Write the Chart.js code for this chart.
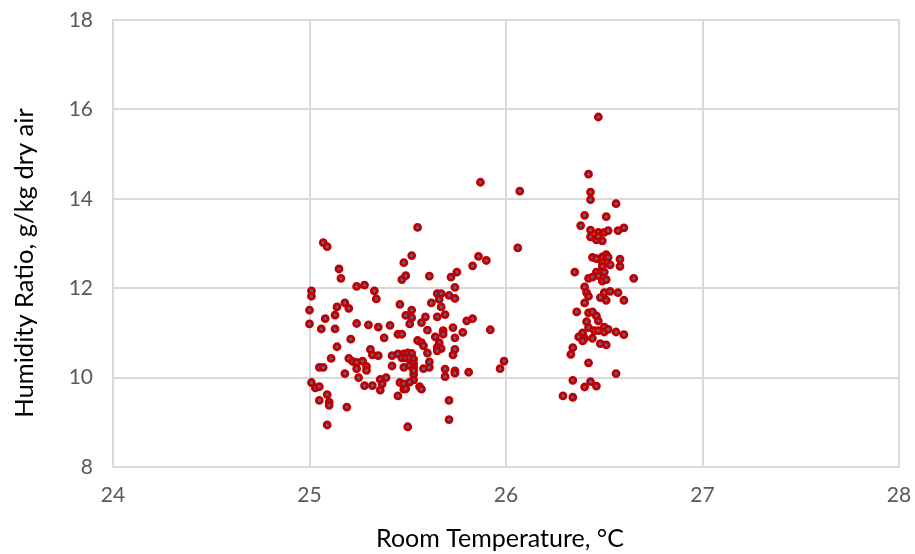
<!DOCTYPE html>
<html>
<head>
<meta charset="utf-8">
<script src="https://cdn.jsdelivr.net/npm/chart.js@4/dist/chart.umd.min.js"></script>
<style>
  html, body { margin: 0; padding: 0; background: #ffffff; }
  #wrap { width: 915px; height: 554px; }
</style>
</head>
<body>
<div id="wrap"><canvas id="chart" width="915" height="554"></canvas></div>
<script>
// Room temperature (°C) of each measurement
const roomTemperature = [
  25.07, 25.09, 25.15, 25.16, 25.24, 25.28, 25.33, 25.34, 25.01, 25.01,
  25.14, 25.18, 25.20, 25.46, 25.47, 25.49, 25.48, 25.52, 25.00,
  25.13, 25.08, 25.00, 25.06, 25.13, 25.24, 25.30, 25.35, 25.41, 25.45,
  25.47, 25.38, 25.21, 25.14, 25.31, 25.32, 25.35, 25.11, 25.20, 25.22,
  25.24, 25.27, 25.24, 25.29, 25.29, 25.42, 25.45, 25.48, 25.47, 25.42,
  25.48, 25.05, 25.07, 25.18, 25.25, 25.01, 25.03, 25.05, 25.28, 25.32,
  25.36, 25.37, 25.39, 25.36, 25.46, 25.48, 25.45, 25.09, 25.05, 25.10,
  25.10, 25.19, 25.09, 25.50,
  25.87, 26.07, 25.55, 26.06, 25.86, 25.90, 25.83, 25.75, 25.72, 25.61,
  25.74, 25.65, 25.67, 25.66, 25.71, 25.74, 25.62, 25.67, 25.52,
  25.49, 25.52, 25.51, 25.57, 25.59, 25.65, 25.69, 25.80, 25.83, 25.60,
  25.73, 25.78, 25.74, 25.68, 25.68, 25.64, 25.66, 25.65, 25.67, 25.65,
  25.92, 25.55, 25.57, 25.58, 25.74, 25.73, 25.60, 25.50, 25.52, 25.49,
  25.51, 25.53, 25.53, 25.61, 25.61, 25.58, 25.51, 25.53, 25.69, 25.69,
  25.74, 25.74, 25.81, 25.53, 25.53, 25.97, 25.99, 25.48, 25.51, 25.49,
  25.56, 25.57, 25.71, 25.71, 25.53,
  26.47, 26.42, 26.43, 26.43, 26.56, 26.40, 26.51, 26.38, 26.43, 26.47,
  26.50, 26.52, 26.57, 26.60, 26.43, 26.46, 26.49, 26.47, 26.44, 26.46,
  26.49, 26.51, 26.52, 26.58, 26.49, 26.53, 26.49, 26.58, 26.35, 26.46,
  26.50, 26.42, 26.44, 26.47, 26.49, 26.51, 26.65,
  26.40, 26.41, 26.42, 26.40, 26.50, 26.53, 26.57, 26.48, 26.51, 26.60,
  26.36, 26.42, 26.44, 26.46, 26.47, 26.41, 26.42, 26.39, 26.37, 26.40,
  26.39, 26.44, 26.45, 26.47, 26.50, 26.50, 26.52, 26.56, 26.60, 26.48,
  26.51, 26.34, 26.33, 26.42, 26.56, 26.34, 26.43, 26.46, 26.40, 26.29,
  26.34
];

// Humidity ratio (g/kg dry air) of the same measurements
const humidityRatio = [
  13.02, 12.93, 12.43, 12.22, 12.04, 12.07, 11.94, 11.76, 11.94, 11.82,
  11.58, 11.67, 11.55, 11.64, 12.19, 12.28, 12.57, 12.73, 11.51,
  11.40, 11.32, 11.20, 11.09, 11.09, 11.21, 11.18, 11.13, 11.17, 10.97,
  10.97, 10.89, 10.86, 10.69, 10.63, 10.51, 10.49, 10.43, 10.43, 10.36,
  10.34, 10.37, 10.20, 10.25, 10.16, 10.49, 10.53, 10.53, 10.44, 10.26,
  10.23, 10.23, 10.23, 10.09, 10.00, 9.89, 9.77, 9.80, 9.82, 9.82,
  9.96, 9.86, 10.00, 9.72, 9.89, 9.74, 9.59, 9.62, 9.49, 9.45,
  9.38, 9.34, 8.94, 8.90,
  14.37, 14.17, 13.36, 12.90, 12.71, 12.62, 12.50, 12.36, 12.25, 12.27,
  12.02, 11.88, 11.88, 11.75, 11.84, 11.77, 11.67, 11.58, 11.51,
  11.39, 11.34, 11.20, 11.23, 11.36, 11.36, 11.41, 11.27, 11.32, 11.06,
  11.12, 11.01, 10.89, 11.05, 10.97, 10.91, 10.78, 10.68, 10.65, 10.60,
  11.07, 10.83, 10.78, 10.71, 10.63, 10.51, 10.55, 10.55, 10.54, 10.44,
  10.44, 10.41, 10.31, 10.35, 10.23, 10.20, 10.27, 10.23, 10.19, 10.02,
  10.15, 10.10, 10.12, 10.07, 9.95, 10.20, 10.37, 9.86, 9.90, 9.75,
  9.80, 9.74, 9.49, 9.06, 10.16,
  15.83, 14.55, 14.15, 13.98, 13.89, 13.63, 13.60, 13.40, 13.30, 13.25,
  13.25, 13.29, 13.29, 13.35, 13.15, 13.08, 13.06, 13.16, 12.69, 12.66,
  12.70, 12.75, 12.69, 12.65, 12.58, 12.52, 12.49, 12.49, 12.36, 12.36,
  12.36, 12.22, 12.25, 12.28, 12.16, 12.19, 12.22,
  12.03, 11.90, 11.82, 11.67, 11.90, 11.93, 11.90, 11.79, 11.73, 11.73,
  11.47, 11.45, 11.47, 11.38, 11.27, 11.25, 11.12, 11.00, 10.91, 10.88,
  10.82, 10.88, 11.05, 11.05, 11.13, 11.02, 11.08, 11.02, 10.96, 10.76,
  10.73, 10.67, 10.52, 10.33, 10.09, 9.94, 9.91, 9.81, 9.79, 9.59,
  9.56
];

// Axis tick values
const xTicks = [24, 25, 26, 27, 28];
const yTicks = [8, 10, 12, 14, 16, 18];

// Axis titles
const xTitle = 'Room Temperature, °C';
const yTitle = 'Humidity Ratio, g/kg dry air';

const points = roomTemperature.map((t, i) => ({ x: t, y: humidityRatio[i] }));

const tickFont = { family: 'Lato', size: 21 };
const gridColor = '#d9d9d9';

// Keep the plot box exactly where the layout padding puts it
function fixBox(size) {
  return s => {
    if (s.isHorizontal()) s.height = size; else s.width = size;
    s.paddingTop = 0; s.paddingBottom = 0; s.paddingLeft = 0; s.paddingRight = 0;
  };
}

// Axis titles, drawn in the margins around the plot box
const axisTitles = {
  id: 'axisTitles',
  afterDraw(chart) {
    const ctx = chart.ctx;
    ctx.save();
    ctx.fillStyle = '#000000';
    ctx.textAlign = 'center';
    ctx.textBaseline = 'alphabetic';
    ctx.font = '25px Lato';
    ctx.fillText(xTitle, 500, 547);
    ctx.translate(33, 263);
    ctx.rotate(-Math.PI / 2);
    ctx.font = '25.5px Lato';
    ctx.fillText(yTitle, 0, 0);
    ctx.restore();
  }
};

new Chart(document.getElementById('chart'), {
  type: 'scatter',
  data: {
    datasets: [{
      label: 'Humidity Ratio',
      data: points,
      pointRadius: 3,
      pointHoverRadius: 3,
      pointBorderWidth: 2.8,
      pointBackgroundColor: '#5b629a',
      pointBorderColor: '#c00000'
    }]
  },
  plugins: [axisTitles],
  options: {
    responsive: false,
    animation: false,
    events: [],
    layout: { padding: { top: 20, right: 16, left: 0, bottom: 0 } },
    plugins: {
      legend: { display: false },
      tooltip: { enabled: false }
    },
    scales: {
      x: {
        type: 'linear',
        min: xTicks[0],
        max: xTicks[xTicks.length - 1],
        afterBuildTicks: s => { s.ticks = xTicks.map(v => ({ value: v })); },
        afterFit: fixBox(87),
        grid: { color: gridColor, lineWidth: 2, drawTicks: false },
        border: { color: gridColor, width: 2 },
        ticks: { font: tickFont, color: '#595959', padding: 16, maxRotation: 0 }
      },
      y: {
        type: 'linear',
        min: yTicks[0],
        max: yTicks[yTicks.length - 1],
        afterBuildTicks: s => { s.ticks = yTicks.map(v => ({ value: v })); },
        afterFit: fixBox(113),
        grid: { color: gridColor, lineWidth: 2, drawTicks: false },
        border: { color: gridColor, width: 2 },
        ticks: { font: tickFont, color: '#595959', padding: 20 }
      }
    }
  }
});
</script>
</body>
</html>
